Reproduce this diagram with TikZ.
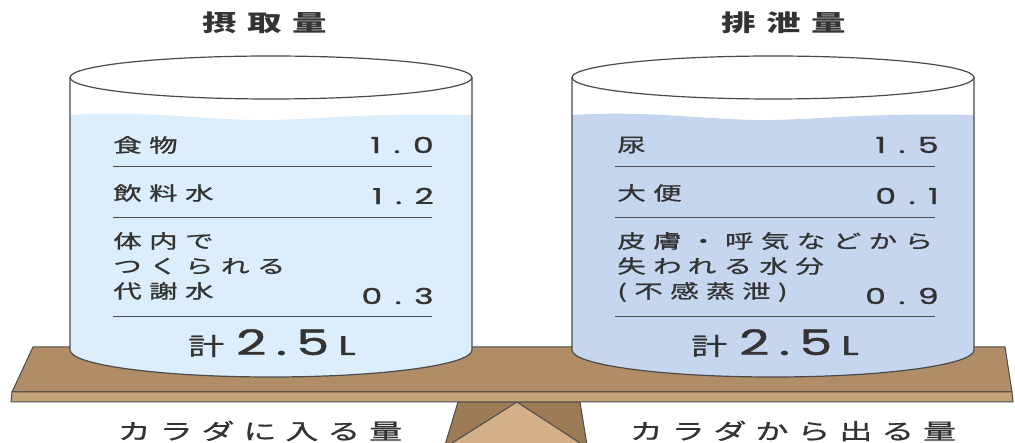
\documentclass[tikz,border=0pt]{standalone}
\usepackage{fontspec}
\usepackage{tikz}

\newfontfamily\jprow{Noto Sans CJK JP}[LetterSpace=26, FakeBold=0.8]
\newfontfamily\jphead{Noto Sans CJK JP}[LetterSpace=30]
\newfontfamily\jpfoot{Noto Sans CJK JP}[LetterSpace=27, FakeBold=0.8]
\newfontfamily\digits{Poppins}[LetterSpace=38, FakeBold=1]
\newfontfamily\bigdigits{Poppins}[LetterSpace=18, FakeBold=1.2]

\definecolor{ink}{HTML}{333333}
\definecolor{edge}{HTML}{4A4A4A}
\definecolor{waterin}{HTML}{DCEEFB}
\definecolor{waterout}{HTML}{C6D6EF}
\definecolor{planktop}{HTML}{B08D66}
\definecolor{plankfront}{HTML}{C6A379}
\definecolor{standdark}{HTML}{9C7B56}
\definecolor{standlight}{HTML}{D4B08A}

% total at the foot of each glass
\newcommand\totalamt{{\jprow\fontsize{24}{24}\selectfont 計}\hspace{8pt}%
  {\bigdigits\fontsize{35}{36}\selectfont 2.5}\hspace{6pt}{\bigdigits\fontsize{27}{28}\selectfont L}}

\tikzset{
  every node/.style={inner sep=0pt, text=ink, xscale=1.5},
  head/.style={font=\jphead\bfseries\fontsize{23}{26}\selectfont},
  item/.style={font=\jprow\fontsize{19}{25}\selectfont, anchor=west, align=left},
  amount/.style={font=\digits\fontsize{22}{24}\selectfont, anchor=east},
  foot/.style={font=\jpfoot\fontsize{22}{24}\selectfont},
  rule/.style={draw=edge, line width=1pt},
  glass/.style={draw=edge, line width=1.2pt},
  wood/.style={draw=edge, line width=1pt, line join=round},
}

\begin{document}
\begin{tikzpicture}[x=1pt, y=-1pt]
    \useasboundingbox (0,0) rectangle (1015,443);

    % plank and stand
    \filldraw[wood, fill=standdark] (458,402) -- (580,402) -- (587,445) -- (445,445) -- cycle;
    \filldraw[wood, fill=standlight] (517,402) -- (583,445) -- (449,445) -- cycle;
    \filldraw[wood, fill=planktop] (33,347) -- (1005,347) -- (1012,392) -- (12,392) -- cycle;
    \filldraw[wood, fill=plankfront] (12,392) -- (1012,392) -- (1013,402) -- (11,402) -- cycle;

    % the two glasses
    \foreach \cx/\wc in {271/waterin, 773/waterout}{
        \fill[\wc] (\cx-201,115) .. controls (\cx-120,110) and (\cx-60,121) .. (\cx,120)
            .. controls (\cx+50,119) and (\cx+90,113) .. (\cx+201,115) -- (\cx+201,350)
            arc[start angle=0, end angle=180, x radius=201, y radius=27] -- cycle;
        \draw[glass] (\cx-201,77.5) -- (\cx-201,350)
            arc[start angle=180, end angle=0, x radius=201, y radius=27] -- (\cx+201,77.5);
        \draw[glass] (\cx,77.5) ellipse[x radius=201, y radius=21.5];
    }

    % intake
    \node[head] (inTitle) at (265,23) {摂取量};
    \node[item] (food) at (113,145) {食物};
    \node[amount] (foodVal) at (434,145) {1.0};
    \draw[rule] (113,167) -- (432,167);
    \node[item] (drink) at (113,193) {飲料水};
    \node[amount] (drinkVal) at (434,196) {1.2};
    \draw[rule] (113,218) -- (432,218);
    \node[item, anchor=north west] (meta) at (113,232) {体内で\\つくられる\\代謝水};
    \node[amount] (metaVal) at (434,296) {0.3};
    \draw[rule] (113,317) -- (432,317);
    \node[anchor=base] (inTotal) at (272,355) {\totalamt};
    \node[foot] (inFoot) at (260,431) {カラダに入る量};

    % output
    \node[head] (outTitle) at (784,23) {排泄量};
    \node[item] (urine) at (617,145) {尿};
    \node[amount] (urineVal) at (939,145) {1.5};
    \draw[rule] (615,167) -- (935,167);
    \node[item] (stool) at (617,193) {大便};
    \node[amount] (stoolVal) at (939,196) {0.1};
    \draw[rule] (615,218) -- (935,218);
    \node[item, anchor=north west] (insens) at (617,232) {皮膚・呼気などから\\失われる水分\\(不感蒸泄)};
    \node[amount] (insensVal) at (939,296) {0.9};
    \draw[rule] (615,317) -- (935,317);
    \node[anchor=base] (outTotal) at (775,355) {\totalamt};
    \node[foot] (outFoot) at (793,431) {カラダから出る量};
\end{tikzpicture}
\end{document}
